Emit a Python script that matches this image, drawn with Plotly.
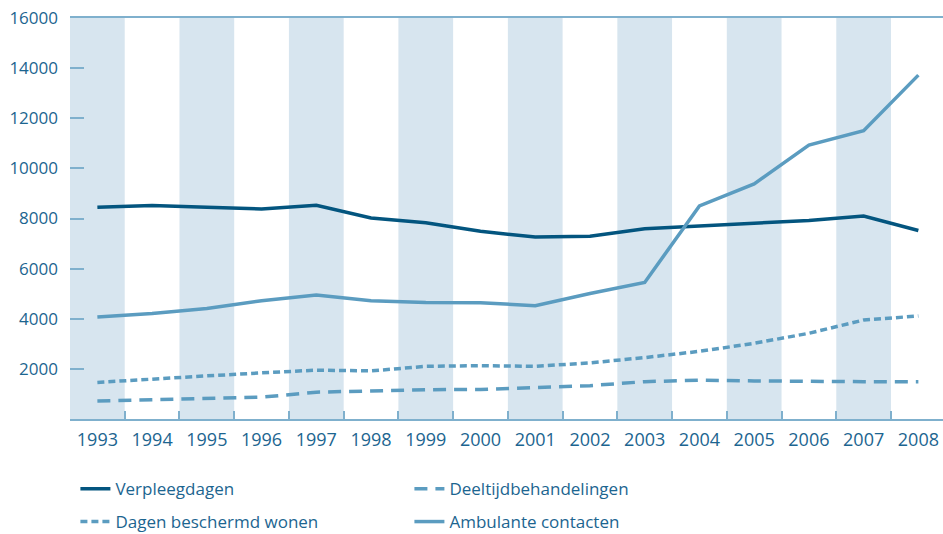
import plotly.graph_objects as go

years = [str(y) for y in range(1993, 2009)]
verpleegdagen = [8450, 8520, 8450, 8380, 8530, 8020, 7830, 7490, 7260, 7290, 7590, 7710, 7810, 7920, 8100, 7520]
deeltijd = [720, 770, 840, 870, 1070, 1120, 1170, 1180, 1250, 1330, 1490, 1550, 1520, 1490, 1490, 1490]
beschermd = [1460, 1600, 1720, 1840, 1950, 1920, 2100, 2130, 2100, 2240, 2450, 2700, 3020, 3420, 3950, 4110]
ambulant = [4070, 4210, 4410, 4720, 4950, 4720, 4650, 4640, 4520, 5010, 5450, 8500, 9380, 10930, 11500, 13720]
ytick_vals = [2000, 4000, 6000, 8000, 10000, 12000, 14000, 16000]

DARK = "#03557f"
LIGHT = "#5b9cc0"
BAND = "#d7e5ef"
AXIS = "#7fb0cd"
TEXT = "#1c6590"
FONT = "Open Sans"

fig = go.Figure()
fig.add_trace(go.Scatter(x=years, y=verpleegdagen, name="Verpleegdagen", mode="lines",
                         line=dict(color=DARK, width=3.5), legend="legend"))
fig.add_trace(go.Scatter(x=years, y=deeltijd, name="Deeltijdbehandelingen", mode="lines",
                         line=dict(color=LIGHT, width=3.5, dash="13px,8px"), legend="legend"))
fig.add_trace(go.Scatter(x=years, y=beschermd, name="Dagen beschermd wonen", mode="lines",
                         line=dict(color=LIGHT, width=3.5, dash="7px,4px"), legend="legend2"))
fig.add_trace(go.Scatter(x=years, y=ambulant, name="Ambulante contacten", mode="lines",
                         line=dict(color=LIGHT, width=3.5), legend="legend2"))

shapes = []
for i, _ in enumerate(years):
    if i % 2 == 0:
        shapes.append(dict(type="rect", xref="x", yref="y", x0=i - 0.5, x1=i + 0.5,
                           y0=0, y1=16000, fillcolor=BAND, line=dict(width=0), layer="below"))

legend_common = dict(orientation="h", x=0.0062, xanchor="left", yanchor="top",
                     entrywidth=289, entrywidthmode="pixels",
                     font=dict(family=FONT, size=17, color=TEXT), bgcolor="rgba(0,0,0,0)")

fig.update_layout(
    width=943, height=534,
    margin=dict(l=70, r=0, t=18, b=115, autoexpand=False),
    paper_bgcolor="white", plot_bgcolor="white",
    font=dict(family=FONT, size=17, color=TEXT),
    shapes=shapes,
    xaxis=dict(type="category", range=[-0.5, 15.45], showgrid=False, zeroline=False,
               showline=True, linecolor=AXIS, linewidth=1.5, mirror=True,
               ticks="inside", tickson="boundaries", ticklen=8, tickcolor=AXIS, tickwidth=1.5,
               ticklabelstandoff=4, ticklabeloverflow="allow",
               tickfont=dict(family=FONT, size=18, color=TEXT)),
    yaxis=dict(range=[0, 16000], tickvals=ytick_vals, tickformat="d", showgrid=False, zeroline=False,
               showline=False, ticks="inside", ticklen=14, tickcolor=AXIS, tickwidth=1.5,
               ticklabelstandoff=11, ticklabeloverflow="allow",
               tickfont=dict(family=FONT, size=17, color=TEXT)),
    legend=dict(y=-0.13, **legend_common),
    legend2=dict(y=-0.212, **legend_common),
    showlegend=True,
)

fig.write_html("out.html", config={"displayModeBar": False},
               post_script="document.body.style.margin='0';")
